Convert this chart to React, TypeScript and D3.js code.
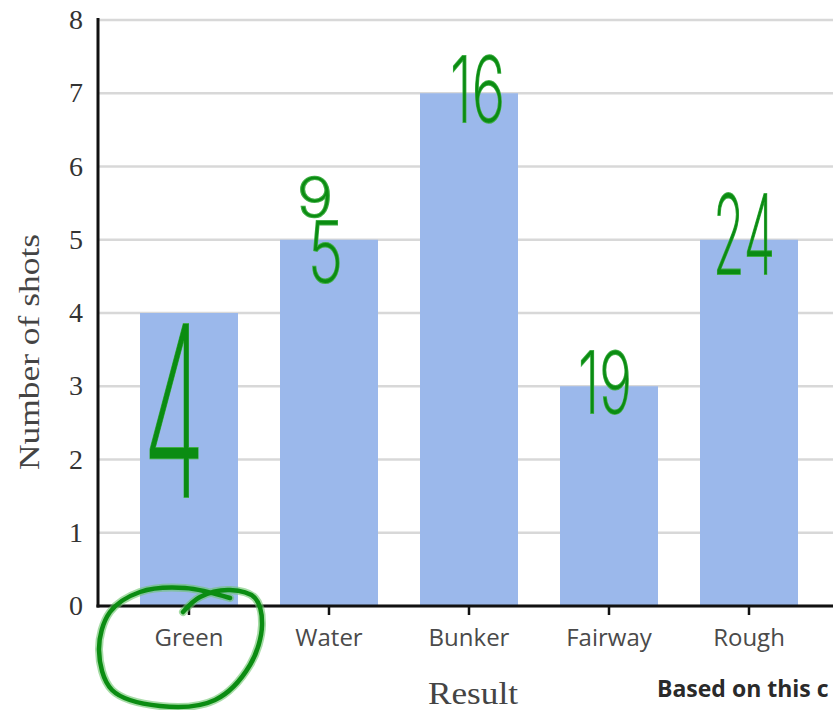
import React from "react";
import * as d3 from "d3";

// chart data
const categories = ["Green", "Water", "Bunker", "Fairway", "Rough"];
const shots = [4, 5, 7, 3, 5];
const yTicks = [0, 1, 2, 3, 4, 5, 6, 7, 8];

// handwritten notes on top of the bars (offsets from bar centre / bar top)
const noteCats = ["Green", "Water", "Water", "Bunker", "Fairway", "Rough"];
const noteLabels = ["4", "9", "5", "16", "19", "24"];
const noteBoxes = [
  { dx: -46, dy: 10, w: 62, h: 174 },
  { dx: -32, dy: -63, w: 36, h: 40 },
  { dx: -21, dy: -19, w: 35, h: 61 },
  { dx: -19, dy: -37, w: 55, h: 66 },
  { dx: -31, dy: -35, w: 54, h: 62 },
  { dx: -36, dy: -46, w: 62, h: 80 },
];
// loop drawn round the "Green" label, relative to its tick
const loopPts: [number, number][] = [
  [-6, 6], [11, -9], [41, -16], [66, -8], [73, 19], [61, 59], [26, 94],
  [-29, 100], [-77, 84], [-90, 44], [-79, 6], [-49, -14], [-4, -18], [41, -8],
];

const W = 833;
const H = 710;
const margin = { top: 20, left: 98, bottom: 104 };
const ink = "#0b8c12";

export default function App() {
  const x = d3
    .scaleBand<string>()
    .domain(categories)
    .range([margin.left + 21, margin.left + 21 + 700])
    .paddingInner(0.3)
    .paddingOuter(0.15);
  const y = d3.scaleLinear().domain([0, 8]).range([H - margin.bottom, margin.top]);
  const base = y(0);
  const cx = (c: string) => (x(c) as number) + x.bandwidth() / 2;

  const loop = d3.line().curve(d3.curveCatmullRom)(
    loopPts.map(([a, b]) => [a + cx("Green"), b + base])
  ) as string;

  return (
    <svg width={W} height={H} style={{ position: "absolute", left: 0, top: 0, background: "#fff" }}>
      {/* grid */}
      {yTicks.map((t) => (
        <line key={"g" + t} x1={margin.left} x2={W} y1={y(t)} y2={y(t)} stroke="#d8d8d8" strokeWidth={2.5} />
      ))}
      {/* bars */}
      {categories.map((c, i) => (
        <rect key={c} x={x(c)} y={y(shots[i])} width={x.bandwidth()} height={base - y(shots[i])} fill="#9bb8eb" />
      ))}
      {/* axes */}
      <line x1={margin.left} x2={margin.left} y1={margin.top - 2} y2={base + 1.5} stroke="#111" strokeWidth={3} />
      <line x1={margin.left - 1.5} x2={W} y1={base} y2={base} stroke="#111" strokeWidth={3} />
      {categories.map((c) => (
        <g key={"t" + c}>
          <line x1={cx(c)} x2={cx(c)} y1={base} y2={base + 9} stroke="#111" strokeWidth={2.5} />
          <text x={cx(c)} y={base + 40} textAnchor="middle" fontFamily="'Open Sans', sans-serif" fontSize={24} fill="#4a4a4a">
            {c}
          </text>
        </g>
      ))}
      {yTicks.map((t) => (
        <text key={"y" + t} x={76} y={y(t) + 9} textAnchor="middle" fontFamily="'Liberation Serif', serif" fontSize={28} fill="#333">
          {t}
        </text>
      ))}
      <text
        transform={`translate(39, 352) rotate(-90)`}
        textAnchor="middle"
        fontFamily="'Liberation Serif', serif"
        fontSize={30}
        fill="#444"
        textLength={236}
        lengthAdjust="spacingAndGlyphs"
      >
        Number of shots
      </text>
      <text
        x={428}
        y={704}
        fontFamily="'Liberation Serif', serif"
        fontSize={31}
        fill="#444"
        textLength={90}
        lengthAdjust="spacingAndGlyphs"
      >
        Result
      </text>
      <text x={657} y={697} fontFamily="'Open Sans', sans-serif" fontWeight={700} fontSize={23} fill="#2a2a2a">
        Based on this c
      </text>

      {/* handwriting */}
      <path d={loop} fill="none" stroke="#6cc46c" strokeWidth={8} strokeLinecap="round" opacity={0.6} />
      <path d={loop} fill="none" stroke={ink} strokeWidth={4.5} strokeLinecap="round" />
      {noteLabels.map((lab, i) => {
        const b = noteBoxes[i];
        const c = noteCats[i];
        const v = shots[categories.indexOf(c)];
        const top = y(v) + b.dy;
        return (
          <text
            key={"n" + i}
            x={cx(c) + b.dx + b.w / 2}
            y={top + b.h}
            textAnchor="middle"
            fontFamily="Inter, Roboto, 'DejaVu Sans', sans-serif"
            fontWeight={200}
            fontSize={b.h / 0.73}
            textLength={b.w}
            lengthAdjust="spacingAndGlyphs"
            fill={ink}
            stroke="#3fae45"
            strokeWidth={2}
            paintOrder="stroke"
          >
            {lab}
          </text>
        );
      })}
    </svg>
  );
}
